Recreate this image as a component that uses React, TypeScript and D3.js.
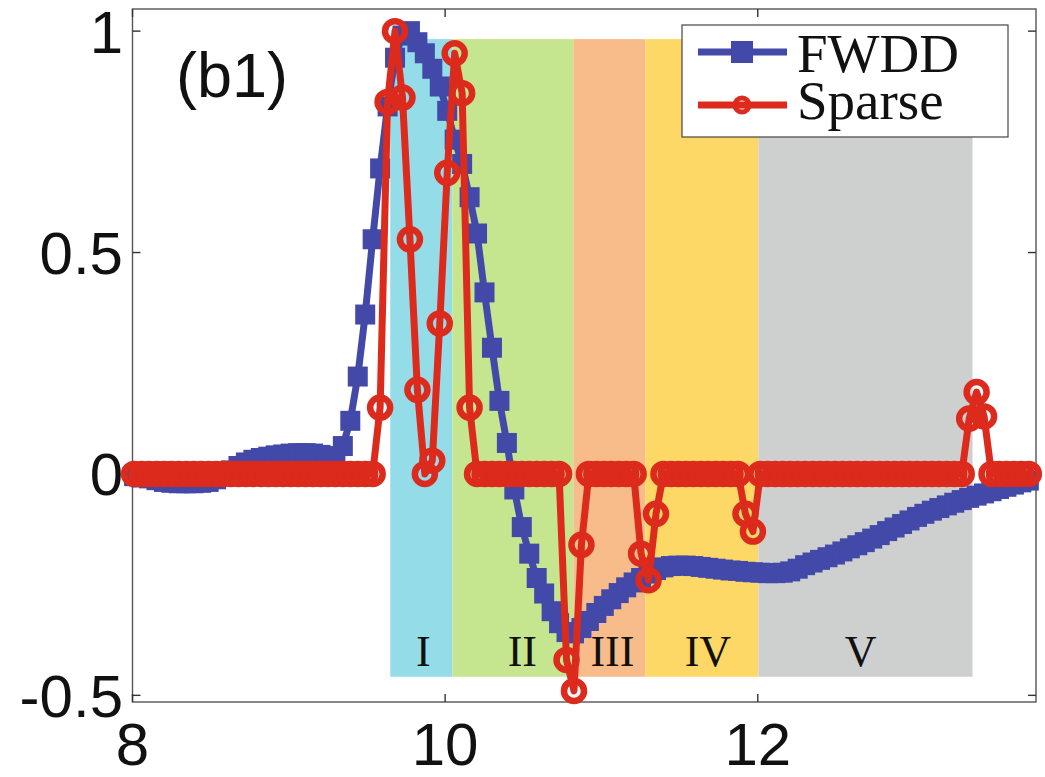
import React from 'react';
import * as d3 from 'd3';

// sampling grid of the signals (time axis)
const X_START = 8.01;
const X_STEP = 0.0477;

// FWDD series values (one per sample)
const fwdd = [
  -0.005, -0.008, -0.01, -0.014, -0.018, -0.02, -0.021, -0.021, -0.021, -0.02,
  -0.018, -0.012, -0.003, 0.008, 0.018, 0.026, 0.032, 0.036, 0.039, 0.042,
  0.044, 0.046, 0.047, 0.047, 0.046, 0.043, 0.04, 0.04, 0.063, 0.12,
  0.22, 0.36, 0.53, 0.69, 0.83, 0.94, 0.99, 1.0, 0.975, 0.95,
  0.915, 0.875, 0.82, 0.755, 0.7, 0.625, 0.543, 0.41, 0.285, 0.165,
  0.07, -0.035, -0.12, -0.18, -0.235, -0.27, -0.31, -0.337, -0.357, -0.36,
  -0.348, -0.332, -0.314, -0.298, -0.283, -0.269, -0.256, -0.245, -0.235, -0.225,
  -0.217, -0.211, -0.208, -0.207, -0.207, -0.208, -0.21, -0.212, -0.214, -0.216,
  -0.218, -0.219, -0.221, -0.222, -0.223, -0.224, -0.224, -0.223, -0.22, -0.214,
  -0.206, -0.2, -0.194, -0.188, -0.182, -0.175, -0.168, -0.161, -0.154, -0.146,
  -0.138, -0.129, -0.121, -0.113, -0.105, -0.097, -0.09, -0.083, -0.077, -0.071,
  -0.065, -0.059, -0.054, -0.049, -0.044, -0.039, -0.034, -0.029, -0.024, -0.019,
  -0.015,
];

// Sparse series values (one per sample)
const sparse = [
  0, 0, 0, 0, 0, 0, 0, 0, 0, 0,
  0, 0, 0, 0, 0, 0, 0, 0, 0, 0,
  0, 0, 0, 0, 0, 0, 0, 0, 0, 0,
  0, 0, 0, 0.15, 0.84, 1.0, 0.85, 0.53, 0.19, 0.0,
  0.03, 0.34, 0.68, 0.95, 0.86, 0.15, 0, 0, 0, 0,
  0, 0, 0, 0, 0, 0, 0, 0, -0.42, -0.49,
  -0.16, 0, 0, 0, 0, 0, 0, 0, -0.18, -0.24,
  -0.09, 0, 0, 0, 0, 0, 0, 0, 0, 0,
  0, 0, -0.09, -0.13, 0, 0, 0, 0, 0, 0,
  0, 0, 0, 0, 0, 0, 0, 0, 0, 0,
  0, 0, 0, 0, 0, 0, 0, 0, 0, 0,
  0, 0, 0.125, 0.185, 0.13, 0, 0, 0, 0, 0,
  0,
];

const regionLabels = ['I', 'II', 'III', 'IV', 'V'];
const regionStarts = [9.649, 10.046, 10.82, 11.281, 12.004];
const regionEnds = [10.046, 10.82, 11.281, 12.004, 13.374];
const regionLabelAt = [9.86, 10.494, 11.07, 11.681, 12.658];
const regionColors = ['#93DCE8', '#C5E68F', '#F8BC8A', '#FDD866', '#CED0CF'];
const regionTop = 0.982;
const regionBottom = -0.458;

const xTicks = [8, 10, 12];
const xTickLabels = ['8', '10', '12'];
const yTicks = [-0.5, 0, 0.5, 1];
const yTickLabels = ['-0.5', '0', '0.5', '1'];

const seriesNames = ['FWDD', 'Sparse'];
const BLUE = '#4249A9';
const RED = '#DC2A1C';

const W = 1045;
const H = 777;

export default function App() {
  const x = d3.scaleLinear().domain([8, 13.78]).range([132.5, 1036]);
  const y = d3.scaleLinear().domain([-0.515, 1.05]).range([702, 9]);

  const fw = fwdd.map((v, i) => [X_START + i * X_STEP, v] as [number, number]);
  const sp = sparse.map((v, i) => [X_START + i * X_STEP, v] as [number, number]);

  const line = d3
    .line<[number, number]>()
    .x((d) => x(d[0]))
    .y((d) => y(d[1]));

  const sansFont = "'Liberation Sans', Arial, Helvetica, sans-serif";
  const serifFont = "'Liberation Serif', 'Times New Roman', serif";
  const [x0, x1] = x.range();
  const [yb, yt] = y.range();
  const sq = 20;

  return (
    <svg
      width={W}
      height={H}
      style={{ position: 'absolute', left: 0, top: 0, background: '#fff' }}
    >
      <rect x={0} y={0} width={W} height={H} fill="#fff" />
      {/* shaded regions */}
      {regionLabels.map((lab, k) => (
        <rect
          key={lab}
          x={x(regionStarts[k])}
          y={y(regionTop)}
          width={x(regionEnds[k]) - x(regionStarts[k])}
          height={y(regionBottom) - y(regionTop)}
          fill={regionColors[k]}
        />
      ))}
      {regionLabels.map((lab, k) => (
        <text
          key={'l' + lab}
          x={x(regionLabelAt[k])}
          y={666}
          fontFamily={serifFont}
          fontSize={44}
          textAnchor="middle"
          fill="#111"
        >
          {lab}
        </text>
      ))}

      {/* axes box */}
      <rect x={x0} y={yt} width={x1 - x0} height={yb - yt} fill="none" stroke="#555" strokeWidth={1.4} />
      {xTicks.map((t) => (
        <g key={'xt' + t}>
          <line x1={x(t)} x2={x(t)} y1={yb} y2={yb - 8} stroke="#333" strokeWidth={1.4} />
          <line x1={x(t)} x2={x(t)} y1={yt} y2={yt + 8} stroke="#333" strokeWidth={1.4} />
        </g>
      ))}
      {yTicks.map((t) => (
        <g key={'yt' + t}>
          <line x1={x0} x2={x0 + 8} y1={y(t)} y2={y(t)} stroke="#333" strokeWidth={1.4} />
          <line x1={x1} x2={x1 - 8} y1={y(t)} y2={y(t)} stroke="#333" strokeWidth={1.4} />
        </g>
      ))}

      {/* FWDD series */}
      <path d={line(fw) || ''} fill="none" stroke={BLUE} strokeWidth={7} strokeLinejoin="round" />
      {fw.map((d, i) => (
        <rect
          key={'b' + i}
          x={x(d[0]) - sq / 2}
          y={y(d[1]) - sq / 2}
          width={sq}
          height={sq}
          fill={BLUE}
        />
      ))}

      {/* Sparse series */}
      <path d={line(sp) || ''} fill="none" stroke={RED} strokeWidth={7} strokeLinejoin="round" />
      {sp.map((d, i) => (
        <circle
          key={'r' + i}
          cx={x(d[0])}
          cy={y(d[1])}
          r={10}
          fill="none"
          stroke={RED}
          strokeWidth={6.5}
        />
      ))}

      {/* tick labels */}
      {xTicks.map((t, k) => (
        <text
          key={'xl' + t}
          x={x(t)}
          y={765}
          fontFamily={sansFont}
          fontSize={60}
          textAnchor="middle"
          fill="#111"
        >
          {xTickLabels[k]}
        </text>
      ))}
      {yTicks.map((t, k) => (
        <text
          key={'yl' + t}
          x={123}
          y={y(t) + 21.5}
          fontFamily={sansFont}
          fontSize={60}
          textAnchor="end"
          fill="#111"
        >
          {yTickLabels[k]}
        </text>
      ))}

      {/* panel label */}
      <text x={176} y={97} fontFamily={sansFont} fontSize={63} fill="#111">
        (b1)
      </text>

      {/* legend */}
      <rect x={682} y={25} width={326} height={112} fill="#fff" stroke="#444" strokeWidth={1.2} />
      <line x1={698} x2={787} y1={52} y2={52} stroke={BLUE} strokeWidth={7} />
      <rect x={742 - 11} y={52 - 11} width={22} height={22} fill={BLUE} />
      <line x1={698} x2={787} y1={105} y2={105} stroke={RED} strokeWidth={7} />
      <circle cx={742} cy={105} r={7} fill="none" stroke={RED} strokeWidth={5} />
      <text x={797} y={72} fontFamily={serifFont} fontSize={55} fill="#111">
        {seriesNames[0]}
      </text>
      <text x={797} y={119} fontFamily={serifFont} fontSize={55} fill="#111">
        {seriesNames[1]}
      </text>
    </svg>
  );
}
